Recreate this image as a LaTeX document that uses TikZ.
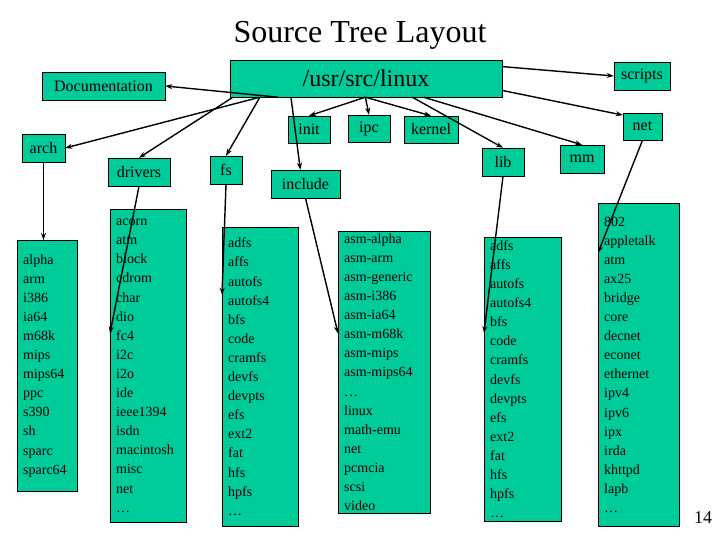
\documentclass[tikz,border=0pt]{standalone}
\usepackage{fontspec}
\setmainfont{Liberation Serif}
\usetikzlibrary{arrows.meta}
\definecolor{teal}{HTML}{00CC99}

\tikzset{
  dir/.style={draw=black, fill=teal, inner sep=0pt, font=\fontsize{16}{18}\selectfont},
  list/.style={draw=black, fill=teal, inner xsep=6pt, inner ysep=0pt, anchor=north west,
    align=left, font=\fontsize{14}{19.1}\selectfont},
  link/.style={-{Stealth[length=7pt,width=5pt]}, line width=1.4pt}
}

\begin{document}
\begin{tikzpicture}[x=1pt, y=-1pt]

  \useasboundingbox[fill=white] (0, 0) rectangle (720, 540);

  % TITLE
  \node[font=\fontsize{32}{36}\selectfont] (title) at (360, 35) {Source Tree Layout};

  % TOP LEVEL
  \node[dir, minimum width=272, minimum height=37, font=\fontsize{24}{28}\selectfont] (linux) at (366, 78.5) {/usr/src/linux};
  \node[dir, minimum width=123, minimum height=28] (doc) at (103.5, 86) {Documentation};
  \node[dir, minimum width=56, minimum height=28] (scripts) at (642, 76) {scripts};
  \node[dir, minimum width=42, minimum height=27] (init) at (309, 129.5) {init};
  \node[dir, minimum width=42, minimum height=27] (ipc) at (369, 128.5) {ipc};
  \node[dir, minimum width=54, minimum height=27] (kernel) at (431, 129.5) {kernel};
  \node[dir, minimum width=43, minimum height=28] (arch) at (43.5, 148) {arch};
  \node[dir, minimum width=62, minimum height=28] (drivers) at (139, 172) {drivers};
  \node[dir, minimum width=32, minimum height=28] (fs) at (226, 170) {fs};
  \node[dir, minimum width=69, minimum height=28] (include) at (305.5, 184) {include};
  \node[dir, minimum width=42, minimum height=28] (lib) at (503, 162) {lib};
  \node[dir, minimum width=44, minimum height=28] (mm) at (582, 159) {mm};
  \node[dir, minimum width=39, minimum height=27] (net) at (642.5, 126.5) {net};

  % LISTS
  \node[list, text width=48, minimum height=251] (archlist) at (17, 240)
    {alpha\\arm\\i386\\ia64\\m68k\\mips\\mips64\\ppc\\s390\\sh\\sparc\\sparc64};
  \node[list, text width=64, minimum height=313] (drvlist) at (110, 209)
    {acorn\\atm\\block\\cdrom\\char\\dio\\fc4\\i2c\\i2o\\ide\\ieee1394\\isdn\\macintosh\\misc\\net\\\dots};
  \node[list, text width=64, minimum height=299] (fslist) at (222, 227)
    {adfs\\affs\\autofs\\autofs4\\bfs\\code\\cramfs\\devfs\\devpts\\efs\\ext2\\fat\\hfs\\hpfs\\\dots};
  \node[list, text width=80, minimum height=282] (inclist) at (338, 231)
    {asm-alpha\\asm-arm\\asm-generic\\asm-i386\\asm-ia64\\asm-m68k\\asm-mips\\asm-mips64\\\dots\\linux\\math-emu\\net\\pcmcia\\scsi\\video};
  \node[list, text width=65, minimum height=284] (liblist) at (484, 237)
    {adfs\\affs\\autofs\\autofs4\\bfs\\code\\cramfs\\devfs\\devpts\\efs\\ext2\\fat\\hfs\\hpfs\\\dots};
  \node[list, text width=69, minimum height=323] (netlist) at (598, 203)
    {802\\appletalk\\atm\\ax25\\bridge\\core\\decnet\\econet\\ethernet\\ipv4\\ipv6\\ipx\\irda\\khttpd\\lapb\\\dots};

  \node[font=\fontsize{18}{20}\selectfont] (page) at (703, 518) {14};

  % ARROWS FROM THE ROOT
  \draw[link] (linux.192) -- (doc.east);
  \draw[link] (linux.190) -- (arch.east);
  \draw[link] (linux.188) -- (drivers.north);
  \draw[link] (linux.-170) -- (fs.north);
  \draw[link] (linux.-166) -- (include.110);
  \draw[link] (linux.-92) -- (init.north);
  \draw[link] (linux.-92) -- (ipc.north);
  \draw[link] (linux.-92) -- (kernel.north);
  \draw[link] (linux.-22) -- (lib.north);
  \draw[link] (linux.-18) -- (mm.north);
  \draw[link] (linux.-5) -- (net.150);
  \draw[link] (linux.5) -- (scripts.west);

  % ARROWS TO THE LISTS
  \draw[link] (arch.south) -- (archlist.north -| arch.south);
  \draw[link] (drivers.south) -- (drvlist.140);
  \draw[link] (fs.south) -- (fslist.115);
  \draw[link] (include.south) -- (inclist.140);
  \draw[link] (lib.south) -- (liblist.130);
  \draw[link] (net.south) -- (netlist.110);

\end{tikzpicture}
\end{document}
